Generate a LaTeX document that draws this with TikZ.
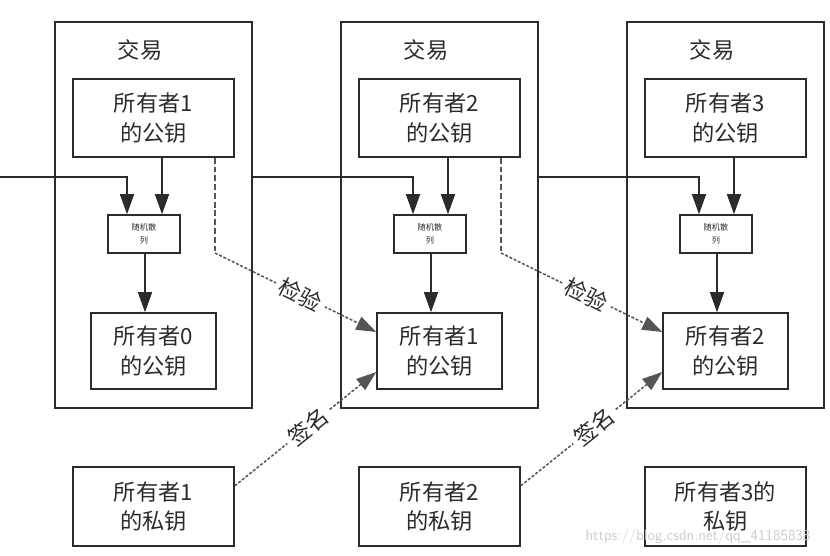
\documentclass[tikz,border=0pt]{standalone}
\usepackage{fontspec}
\newfontfamily\cjk{Noto Sans CJK SC}
\usepackage{tikz}
\usetikzlibrary{arrows.meta}
\definecolor{ink}{HTML}{2B2B2B}
\definecolor{dsh}{HTML}{555555}

\begin{document}
\begin{tikzpicture}[x=0.03cm, y=-0.03cm, line width=1.3pt, draw=ink,
  >={Triangle[length=0.6cm,width=0.42cm]},
  font={\cjk\fontsize{19}{25}\selectfont}, text=ink,
  tx/.style={draw, minimum width=5.91cm, minimum height=11.58cm, inner sep=0pt},
  pk/.style={draw, align=center, minimum width=4.83cm, minimum height=2.34cm, inner sep=0pt},
  hs/.style={draw, align=center, minimum width=2.16cm, minimum height=1.14cm, inner sep=0pt,
    font={\cjk\fontsize{7}{11}\selectfont}},
  pv/.style={draw, align=center, minimum width=3.75cm, minimum height=2.28cm, inner sep=0pt},
  sk/.style={draw, align=center, minimum width=4.83cm, minimum height=2.37cm, inner sep=0pt},
  chkv/.style={draw=dsh, dash pattern=on 5pt off 2.5pt},
  chkd/.style={draw=dsh, dash pattern=on 2.5pt off 1.5pt, ->},
  lbl/.style={sloped, fill=white, inner sep=4pt}]
  \useasboundingbox (0,0) rectangle (830,556);

  % transactions
  \node[tx] (t1) at (153.5,215) {};
  \node[tx] (t2) at (439.5,215) {};
  \node[tx] (t3) at (725.5,215) {};
  \node (l1) at (140,50) {交易};
  \node (l2) at (426,50) {交易};
  \node (l3) at (712,50) {交易};

  \node[pk] (p1) at (153.5,118) {所有者1\\的公钥};
  \node[pk] (p2) at (439.5,118) {所有者2\\的公钥};
  \node[pk] (p3) at (725.5,118) {所有者3\\的公钥};

  \node[hs] (h1) at (144,234) {随机散\\列};
  \node[hs] (h2) at (430,234) {随机散\\列};
  \node[hs] (h3) at (716,234) {随机散\\列};

  \node[pv] (q1) at (153.5,351) {所有者0\\的公钥};
  \node[pv] (q2) at (439.5,351) {所有者1\\的公钥};
  \node[pv] (q3) at (725.5,351) {所有者2\\的公钥};

  % private keys
  \node[sk] (s1) at (153.5,506.5) {所有者1\\的私钥};
  \node[sk] (s2) at (439.5,506.5) {所有者2\\的私钥};
  \node[sk] (s3) at (725.5,506.5) {所有者3的\\私钥};

  % hash inputs
  \coordinate (in) at (0,177);
  \draw[->] (in) -| ([xshift=-0.51cm]h1.north);
  \draw[->] (t1.east |- in) -| ([xshift=-0.51cm]h2.north);
  \draw[->] (t2.east |- in) -| ([xshift=-0.51cm]h3.north);
  \draw[->] ([xshift=0.54cm]h1.north |- p1.south) -- ([xshift=0.54cm]h1.north);
  \draw[->] ([xshift=0.54cm]h2.north |- p2.south) -- ([xshift=0.54cm]h2.north);
  \draw[->] ([xshift=0.54cm]h3.north |- p3.south) -- ([xshift=0.54cm]h3.north);
  \draw[->] ([xshift=0.03cm]h1.south) -- ([xshift=0.03cm]h1.south |- q1.north);
  \draw[->] ([xshift=0.03cm]h2.south) -- ([xshift=0.03cm]h2.south |- q2.north);
  \draw[->] ([xshift=0.03cm]h3.south) -- ([xshift=0.03cm]h3.south |- q3.north);

  % verify
  \coordinate (k1) at (215,253);
  \coordinate (k2) at (501,253);
  \draw[chkv] (k1 |- p1.south) -- (k1);
  \draw[chkv] (k2 |- p2.south) -- (k2);
  \draw[chkd] (k1) -- node[lbl, pos=0.53] {检验} ([yshift=0.57cm]q2.west);
  \draw[chkd] (k2) -- node[lbl, pos=0.53] {检验} ([yshift=0.57cm]q3.west);

  % sign
  \draw[chkd] ([yshift=0.62cm]s1.east) -- node[lbl, pos=0.52] {签名} ([yshift=-0.63cm]q2.west);
  \draw[chkd] ([yshift=0.62cm]s2.east) -- node[lbl, pos=0.52] {签名} ([yshift=-0.63cm]q3.west);

  \node[text=gray!40, font={\fontsize{13}{13}\selectfont\sffamily}] (wm) at (698,537)
    {https://blog.csdn.net/qq\_41185838};
\end{tikzpicture}
\end{document}
